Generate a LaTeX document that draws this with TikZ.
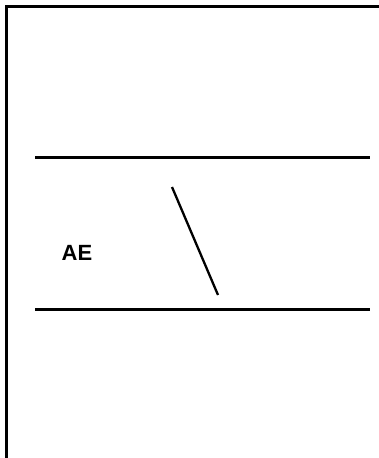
\documentclass[tikz,border=0pt]{standalone}
\usepackage{fontspec}
\setmainfont{Liberation Sans}
\usetikzlibrary{positioning}
\tikzset{
  frame/.style={line width=2.8pt},
  rule/.style={line width=2.3pt},
  lbl/.style={font=\bfseries\fontsize{22}{26}\selectfont, inner sep=0pt},
}
\begin{document}
\begin{tikzpicture}[x=1pt,y=-1pt]
  \useasboundingbox (0,0) rectangle (379,458);
  % outer frame, open at right and bottom
  \draw[frame] (6.5,458) -- (6.5,6.5) -- (379,6.5);
  \draw[rule] (35,157.5) -- (370,157.5);
  \draw[rule] (35,309.5) -- (370,309.5);
  \coordinate (dtop) at (172,187);
  \coordinate (dbot) at (218,295);
  \draw[rule] (dtop) -- (dbot);
  \node[lbl] (ae) at (77,253) {AE};
\end{tikzpicture}
\end{document}
